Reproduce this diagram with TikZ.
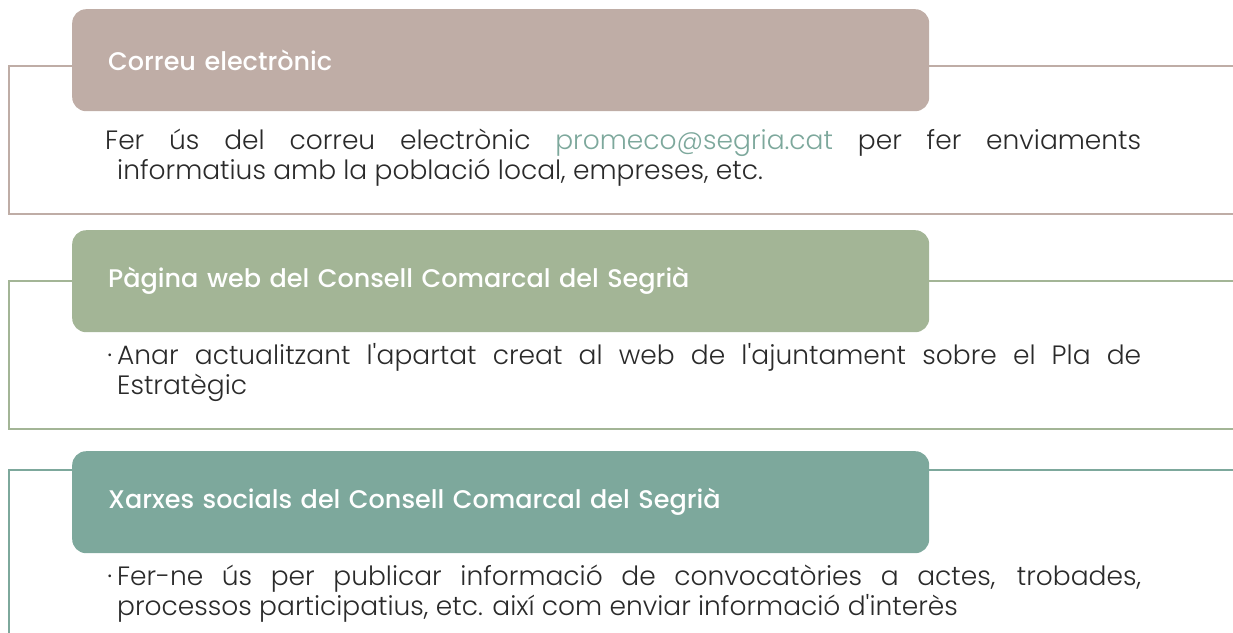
\documentclass[tikz,border=0pt]{standalone}
\usepackage{fontspec}
\setmainfont{Poppins}
\newfontfamily\headfont{Poppins Medium}
\newfontfamily\bodyfont{Poppins Light}
\usetikzlibrary{positioning,calc}
\definecolor{mauve}{HTML}{BFADA6}
\definecolor{sage}{HTML}{A3B596}
\definecolor{teal}{HTML}{7DA89C}
\definecolor{ink}{HTML}{2A2A2A}

\begin{document}
\begin{tikzpicture}[
    x=1pt, y=-1pt,
    head/.style={rectangle, rounded corners=14pt, minimum width=857pt, minimum height=102pt,
        text width=785pt, align=left, inner xsep=36pt, anchor=north west,
        text=white, font=\headfont\fontsize{25.5}{30}\selectfont},
    body/.style={anchor=north west, inner sep=0pt, text width=1024pt, align=justify,
        text=ink, font=\bodyfont\fontsize{26.5}{30}\selectfont},
    bracket/.style={line width=2.4pt}
]
\useasboundingbox (0,0) rectangle (1233,632);

% Headers
\node[head, fill=mauve] (correu) at (72,9) {Correu electrònic};
\node[head, fill=sage] (web) at (72,230) {Pàgina web del Consell Comarcal del Segrià};
\node[head, fill=teal] (xarxes) at (72,451) {Xarxes socials del Consell Comarcal del Segrià};

% Texts
\node[body] (tcorreu) at (117,129) {\hspace*{-12pt}Fer ús del correu electrònic
    \textcolor{teal}{promeco@segria.cat} per fer enviaments\linebreak
    informatius amb la població local, empreses, etc.};
\node[body] (tweb) at (117,343) {\llap{·\hspace{5pt}}Anar actualitzant l'apartat creat al web
    de l'ajuntament sobre el Pla de\linebreak Estratègic};
\node[body] (txarxes) at (117,565) {\llap{·\hspace{5pt}}Fer-ne ús per publicar informació de
    convocatòries a actes, trobades,\linebreak processos participatius, etc. així com enviar
    informació d'interès};

% Brackets
\coordinate (l1) at (9,214);
\coordinate (r1) at (1233,214);
\coordinate (l2) at (9,429);
\coordinate (r2) at (1233,429);
\coordinate (l3) at (9,640);
\draw[bracket, mauve] ([yshift=-6pt]correu.west) -| (l1) -- (r1);
\draw[bracket, mauve] ([yshift=-6pt]correu.east) -- ++(304,0);
\draw[bracket, sage] (web.west) -| (l2) -- (r2);
\draw[bracket, sage] (web.east) -- ++(304,0);
\draw[bracket, teal] ([yshift=32pt]xarxes.west) -| (l3);
\draw[bracket, teal] ([yshift=32pt]xarxes.east) -- ++(304,0);
\end{tikzpicture}
\end{document}
